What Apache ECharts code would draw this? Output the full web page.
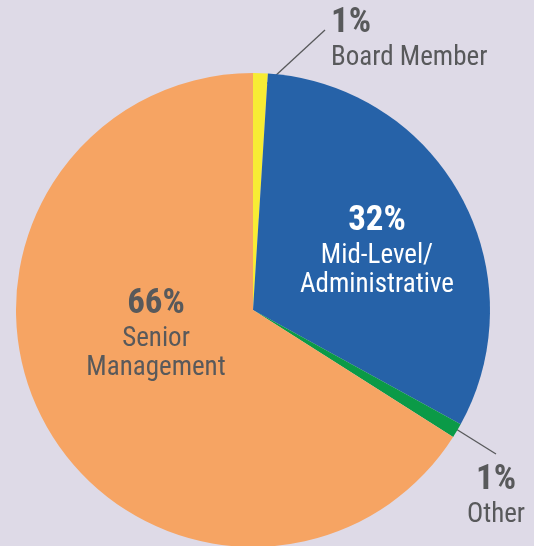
<!DOCTYPE html>
<html>
<head>
<meta charset="utf-8">
<script src="https://cdn.jsdelivr.net/npm/echarts@6/dist/echarts.min.js"></script>
<style>
  html, body { margin: 0; padding: 0; background: #DEDAE7; }
  #chart { width: 534px; height: 546px; }
</style>
</head>
<body>
<div id="chart"></div>
<script>
var categories = ['Board Member', 'Mid-Level/\nAdministrative', 'Other', 'Senior\nManagement']
var values = [1, 32, 1, 66]
var colors = ['#F7EC34', '#2662A8', '#0B9A47', '#F6A463']
var textColors = ['#58595B', '#ffffff', '#58595B', '#58595B']

// where each label block sits (left/centre x, top y)
var labelPos = [
  { x: 331, y: 3, align: 'left' },
  { x: 377, y: 201, align: 'center' },
  { x: 496, y: 460, align: 'center' },
  { x: 156, y: 284, align: 'center' }
]
var leaderLines = {
  0: [[261, 89], [325, 30], [325, 30]],
  2: [[448, 424], [496, 454], [496, 454]]
}

var font = '"Liberation Sans Narrow", "Roboto Condensed", Roboto, sans-serif'

var chart = echarts.init(document.getElementById('chart'))

chart.setOption({
  backgroundColor: '#DEDAE7',
  animation: false,
  series: [{
    type: 'pie',
    center: [253, 310],
    radius: 237,
    startAngle: 90,
    clockwise: true,
    data: categories.map(function (name, i) {
      return {
        name: name,
        value: values[i],
        itemStyle: { color: colors[i] },
        label: {
          color: textColors[i],
          align: labelPos[i].align,
          rich: {
            p: { fontFamily: font, fontWeight: 'bold', fontSize: 35, lineHeight: 41, color: textColors[i], align: labelPos[i].align },
            n: { fontFamily: font, fontSize: 27, lineHeight: 29, color: textColors[i], align: labelPos[i].align }
          }
        },
        labelLine: { show: !!leaderLines[i] }
      }
    }),
    label: {
      show: true,
      position: 'outside',
      alignTo: 'none',
      overflow: 'none',
      fontFamily: font,
      formatter: function (p) {
        var lines = p.name.split('\n').map(function (s) { return '{n|' + s + '}' })
        return '{p|' + p.value + '%}\n' + lines.join('\n')
      }
    },
    labelLine: {
      lineStyle: { color: '#58595B', width: 1.3 }
    },
    labelLayout: function (params) {
      var pos = labelPos[params.dataIndex]
      var out = { x: pos.x, y: pos.y, align: pos.align, verticalAlign: 'top', width: 300 }
      if (leaderLines[params.dataIndex]) out.labelLinePoints = leaderLines[params.dataIndex]
      return out
    }
  }]
})
</script>
</body>
</html>
